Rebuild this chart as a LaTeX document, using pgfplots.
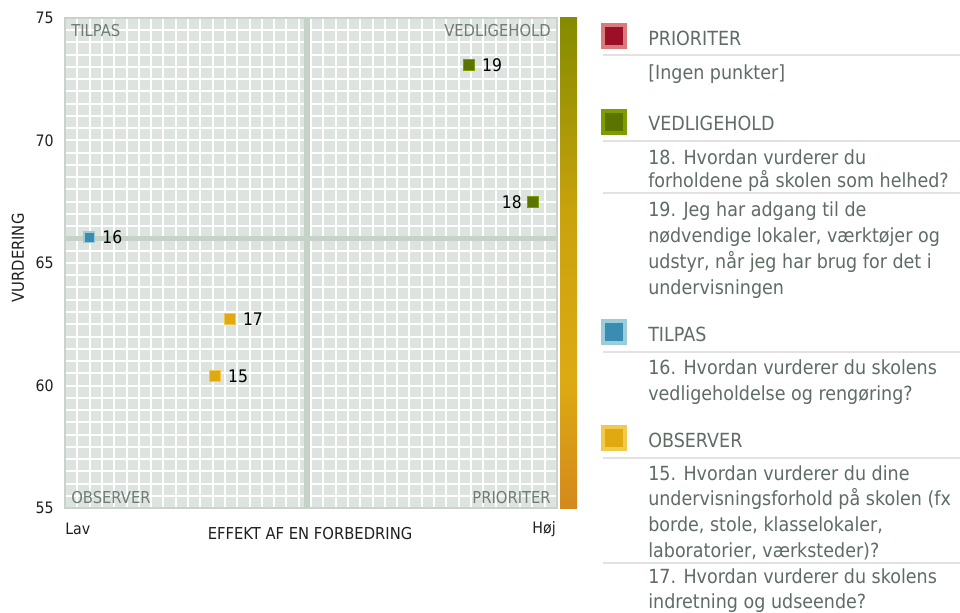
\documentclass[border=0pt]{standalone}
\usepackage{fontspec}
\setmainfont{DejaVu Sans}[FakeStretch=0.9]
\usepackage{pgfplots}
\pgfplotsset{compat=1.18}

\definecolor{bgc}{HTML}{DDE3DF}
\definecolor{framec}{HTML}{C9D3CC}
\definecolor{crossc}{HTML}{C6D2C8}
\definecolor{quadc}{HTML}{6E7C74}
\definecolor{legc}{HTML}{5E6C64}
\definecolor{divc}{HTML}{E2E2E2}
\definecolor{priout}{HTML}{D97B7D}
\definecolor{priin}{HTML}{9B1027}
\definecolor{vedout}{HTML}{7D9C00}
\definecolor{vedin}{HTML}{5B7400}
\definecolor{tilout}{HTML}{9CCBD9}
\definecolor{tilin}{HTML}{3A8DB0}
\definecolor{obsout}{HTML}{F2C94C}
\definecolor{obsin}{HTML}{E0A912}
\definecolor{ctop}{HTML}{848B00}
\definecolor{cmid}{HTML}{C9A30C}
\definecolor{cmid2}{HTML}{DDAA12}
\definecolor{cbot}{HTML}{D4891C}

\pgfdeclareverticalshading{cbar}{100bp}{color(0bp)=(cbot); color(25bp)=(cbot); color(38bp)=(cmid2); color(55bp)=(cmid); color(75bp)=(ctop); color(100bp)=(ctop)}

\newcommand\leg{\fontsize{14.6}{17}\selectfont}
\newcommand\tck{\fontsize{11.8}{14}\selectfont}
\newcommand\ptl{\fontsize{13}{15}\selectfont}

\begin{document}
\begin{tikzpicture}
\begin{axis}[
    at={(48.75pt,-13.5pt)}, anchor=north west,
    scale only axis, width=369pt, height=367.5pt,
    xmin=0, xmax=40, ymin=55, ymax=75,
    xtick={0,1,...,40}, xticklabels={,},
    ytick={55,60,...,75}, minor ytick={55,55.5,...,75},
    grid=both,
    major grid style={white, line width=1.5pt},
    minor grid style={white, line width=1.5pt},
    tick style={draw=none},
    axis line style={draw=framec, line width=2pt},
    axis background/.style={fill=bgc},
    /pgf/number format/assume math mode=true,
    yticklabel style={font=\tck, text=black!88, xshift=-5pt},
    clip=false,
]
% quadrant cross
\addplot[crossc, line width=4pt, forget plot] coordinates {(19.67,55) (19.67,75)};
\addplot[crossc, line width=4pt, forget plot] coordinates {(0,66) (40,66)};
% OBSERVER
\addplot[only marks, mark=square*, mark size=4pt,
    mark options={fill=obsin, draw=obsout, line width=1pt},
    nodes near coords, point meta=explicit symbolic,
    every node near coord/.append style={anchor=west, xshift=6pt, font=\ptl, text=black}]
  table[meta=label] {
x y label
12.2 60.39 15
13.41 62.71 17
};
% TILPAS
\addplot[only marks, mark=square*, mark size=4pt,
    mark options={fill=tilin, draw=tilout, line width=1pt},
    nodes near coords, point meta=explicit symbolic,
    every node near coord/.append style={anchor=west, xshift=6pt, font=\ptl, text=black}]
  table[meta=label] {
x y label
1.98 66.05 16
};
% VEDLIGEHOLD
\addplot[only marks, mark=square*, mark size=4pt,
    mark options={fill=vedin, draw=vedout, line width=1pt},
    nodes near coords, point meta=explicit symbolic,
    every node near coord/.append style={anchor=west, xshift=6pt, font=\ptl, text=black}]
  table[meta=label] {
x y label
32.85 73.08 19
};
\addplot[only marks, mark=square*, mark size=4pt,
    mark options={fill=vedin, draw=vedout, line width=1pt},
    nodes near coords, point meta=explicit symbolic,
    every node near coord/.append style={anchor=east, xshift=-4.6pt, font=\ptl, text=black}]
  table[meta=label] {
x y label
38.05 67.49 18
};
\end{axis}

\begin{scope}[x=0.75pt, y=-0.75pt]
\useasboundingbox (0,0) rectangle (960,613);
% quadrant names
\begin{scope}[every node/.style={inner sep=0pt, font=\fontsize{12.3}{14}\selectfont, text=quadc}]
\node[anchor=base west] at (71,36.7) {TILPAS};
\node[anchor=base east] at (551,36.7) {VEDLIGEHOLD};
\node[anchor=base west] at (71,503.3) {OBSERVER};
\node[anchor=base east] at (551,503.3) {PRIORITER};
\end{scope}
% axis texts
\begin{scope}[every node/.style={inner sep=0pt, font=\tck, text=black!88}]
\node[anchor=base west] at (65,534) {Lav};
\node[anchor=base east] at (556,533.3) {Høj};
\node[anchor=base, font=\fontsize{12.3}{14}\selectfont] at (310,539) {EFFEKT AF EN FORBEDRING};
\node[rotate=90, font=\fontsize{12.3}{14}\selectfont] at (18,258) {VURDERING};
\end{scope}
% colour bar
\shade[shading=cbar] (560,18) rectangle (577,508);
% legend
\foreach \yy in {55,141,193,352,458,563}
  \draw[divc, line width=1.5pt] (603,\yy) -- (960,\yy);
\fill[priout] (601,23) rectangle (627,49); \fill[priin] (605,27) rectangle (623,45);
\fill[vedout] (601,109) rectangle (627,135); \fill[vedin] (605,113) rectangle (623,131);
\fill[tilout] (601,319) rectangle (627,345); \fill[tilin] (605,323) rectangle (623,341);
\fill[obsout] (601,425) rectangle (627,451); \fill[obsin] (605,429) rectangle (623,447);
\begin{scope}[every node/.style={inner sep=0pt, anchor=base west, font=\leg, text=legc}]
\node at (648,45.7) {PRIORITER};
\node at (648,80) {[Ingen punkter]};
\node at (648,131) {VEDLIGEHOLD};
\node at (648,164.3) {18. Hvordan vurderer du};
\node at (648,188) {forholdene på skolen som helhed?};
\node at (648,216) {19. Jeg har adgang til de};
\node at (648,242) {nødvendige lokaler, værktøjer og};
\node at (648,268) {udstyr, når jeg har brug for det i};
\node at (648,294) {undervisningen};
\node at (648,341.7) {TILPAS};
\node at (648,374) {16. Hvordan vurderer du skolens};
\node at (648,400) {vedligeholdelse og rengøring?};
\node at (648,447.7) {OBSERVER};
\node at (648,480) {15. Hvordan vurderer du dine};
\node at (648,505.7) {undervisningsforhold på skolen (fx};
\node at (648,531.7) {borde, stole, klasselokaler,};
\node at (648,557.3) {laboratorier, værksteder)?};
\node at (648,583.3) {17. Hvordan vurderer du skolens};
\node at (648,608.3) {indretning og udseende?};
\end{scope}
\end{scope}
\end{tikzpicture}
\end{document}
